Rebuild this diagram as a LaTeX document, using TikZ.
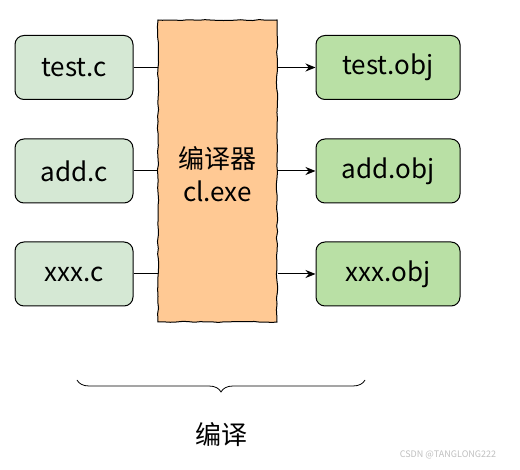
\documentclass[tikz,border=0pt]{standalone}
\usepackage{fontspec}
\setmainfont{Noto Sans CJK SC}
\usetikzlibrary{decorations.pathmorphing,decorations.pathreplacing,arrows.meta}
\definecolor{srcfill}{HTML}{D5E8D4}
\definecolor{objfill}{HTML}{B9E0A5}
\definecolor{cmpfill}{HTML}{FFC994}
\begin{document}
\begin{tikzpicture}[x=1pt,y=-1pt,
  sketch/.style={decorate,decoration={random steps,segment length=6pt,amplitude=0.6pt}},
  filebox/.style={draw=black,line width=1pt,rounded corners=9pt,minimum height=64pt,inner sep=0pt,font=\fontsize{26}{30}\selectfont},
  srcbox/.style={filebox,fill=srcfill,minimum width=118pt},
  objbox/.style={filebox,fill=objfill,minimum width=144pt},
  cmpbox/.style={draw=black,line width=1pt,sketch,fill=cmpfill,minimum width=119pt,minimum height=302pt,inner sep=0pt},
  conn/.style={line width=1pt},
  arr/.style={conn,-{Stealth[length=10pt,width=8pt]}}
]
\pgfmathsetseed{7}
\useasboundingbox (0,0) rectangle (520,470);
\node[cmpbox] (cmp) at (217.5,171) {};
\node[font=\fontsize{26}{33}\selectfont,align=center] (cmptext) at (217.5,174) {编译器\\cl.exe};
\node[srcbox] (s1) at (74,67.5) {test.c};
\node[srcbox] (s2) at (74,171) {add.c};
\node[srcbox] (s3) at (74,274) {xxx.c};
\node[objbox] (o1) at (388,67.5) {test.obj};
\node[objbox] (o2) at (388,171) {add.obj};
\node[objbox] (o3) at (388,274) {xxx.obj};
\foreach \i in {1,2,3}{
  \draw[conn] (s\i.east) -- (s\i.east -| cmp.west);
  \draw[arr] (o\i.west -| cmp.east) -- (o\i.west);
}
\coordinate (bl) at (77,380);
\coordinate (br) at (365,380);
\draw[line width=0.8pt,decorate,decoration={brace,mirror,amplitude=12pt}] (bl) -- (br);
\node[font=\fontsize{26}{30}\selectfont] (lbl) at (221,435) {编译};
\node[font=\fontsize{9}{11}\selectfont,text=black!25] (wm) at (448,455) {CSDN @TANGLONG222};
\end{tikzpicture}
\end{document}
